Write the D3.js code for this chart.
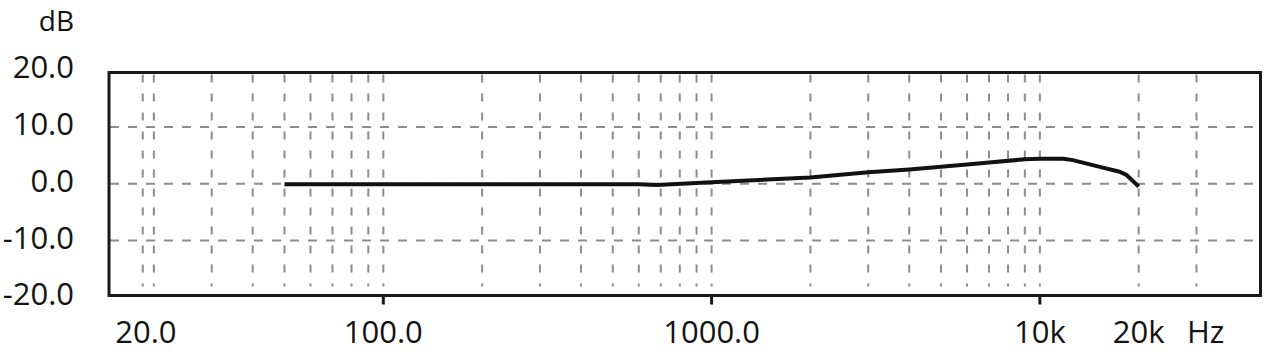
<!DOCTYPE html>
<html>
<head>
<meta charset="utf-8">
<script src="https://cdn.jsdelivr.net/npm/d3@7"></script>
<style>
  body { margin: 0; background: #fff; }
  svg { display: block; }
  text { font-family: "Open Sans", sans-serif; fill: #141414; }
</style>
</head>
<body>
<svg id="svg" width="1273" height="359"></svg>
<script>
// response curve
var freqs = [50, 100, 200, 400, 600, 680, 1000, 2000, 3000, 4000, 5000, 6000, 7000, 9000, 10000, 11800, 12600, 14900, 17500, 18400, 20000];
var levels = [-0.1, -0.1, -0.1, -0.1, -0.1, -0.25, 0.25, 1.1, 2.0, 2.5, 3.0, 3.4, 3.75, 4.3, 4.4, 4.4, 4.15, 3.1, 2.1, 1.5, -0.5];

var gridFreqs = [18.5, 20, 30, 40, 50, 60, 70, 80, 90, 100, 200, 300, 400, 500, 600, 700, 800, 900, 1000,
                 2000, 3000, 4000, 5000, 6000, 7000, 8000, 9000, 10000, 20000, 30000];
var gridLevels = [10, 0, -10];

var xTickVals = [20, 100, 1000, 10000, 20000];
var xTickLabels = ['20.0', '100.0', '1000.0', '10k', '20k'];
var xMarkVals = [100, 1000, 10000];
var yTickVals = [20, 10, 0, -10, -20];
var yTickLabels = ['20.0', '10.0', '0.0', '-10.0', '-20.0'];

var plotLeft = 109, plotRight = 1260.5, plotTop = 72.5, plotBottom = 295.5;

var svg = d3.select('svg');

var x = d3.scaleLog()
    .domain([14.6, 47000])
    .range([plotLeft, plotRight]);

var y = d3.scaleLinear()
    .domain([-20, 20])
    .range([297.3, 70.1]);

// grid
svg.selectAll('line.vgrid')
    .data(gridFreqs)
    .enter()
    .append('line')
    .attr('class', 'vgrid')
    .attr('x1', function(d){ return x(d); })
    .attr('x2', function(d){ return x(d); })
    .attr('y1', plotTop + 2)
    .attr('y2', plotBottom - 9)
    .attr('stroke', '#8c8c8c')
    .attr('stroke-width', 2)
    .attr('stroke-dasharray', '8,11');

svg.selectAll('line.hgrid')
    .data(gridLevels)
    .enter()
    .append('line')
    .attr('class', 'hgrid')
    .attr('x1', plotLeft + 1)
    .attr('x2', plotRight - 1)
    .attr('y1', function(d){ return y(d); })
    .attr('y2', function(d){ return y(d); })
    .attr('stroke', '#8c8c8c')
    .attr('stroke-width', 2)
    .attr('stroke-dasharray', '9,9');

// frame
svg.append('rect')
    .attr('x', plotLeft)
    .attr('y', plotTop)
    .attr('width', plotRight - plotLeft)
    .attr('height', plotBottom - plotTop)
    .attr('fill', 'none')
    .attr('stroke', '#1a1a1a')
    .attr('stroke-width', 3);

// decade tick marks under the frame
svg.selectAll('line.xmark')
    .data(xMarkVals)
    .enter()
    .append('line')
    .attr('class', 'xmark')
    .attr('x1', function(d){ return x(d); })
    .attr('x2', function(d){ return x(d); })
    .attr('y1', plotBottom)
    .attr('y2', plotBottom + 9)
    .attr('stroke', '#1a1a1a')
    .attr('stroke-width', 3);

// curve
var line = d3.line()
    .x(function(d, i){ return x(freqs[i]); })
    .y(function(d){ return y(d); });

svg.append('path')
    .datum(levels)
    .attr('d', line)
    .attr('fill', 'none')
    .attr('stroke', '#111')
    .attr('stroke-width', 4)
    .attr('stroke-linejoin', 'round');

// labels
svg.selectAll('text.ylab')
    .data(yTickVals)
    .enter()
    .append('text')
    .attr('class', 'ylab')
    .attr('x', 74)
    .attr('y', function(d){ return Math.max(y(d) + 8, 75); })
    .attr('text-anchor', 'end')
    .attr('font-size', 31)
    .text(function(d, i){ return yTickLabels[i]; });

svg.append('text')
    .attr('x', 74)
    .attr('y', 31)
    .attr('text-anchor', 'end')
    .attr('font-size', 28)
    .text('dB');

svg.selectAll('text.xlab')
    .data(xTickVals)
    .enter()
    .append('text')
    .attr('class', 'xlab')
    .attr('x', function(d, i){ return x(d) - (i == 0 ? 8 : 0); })
    .attr('y', 343)
    .attr('text-anchor', 'middle')
    .attr('font-size', 31)
    .text(function(d, i){ return xTickLabels[i]; });

svg.append('text')
    .attr('x', 1187)
    .attr('y', 343)
    .attr('font-size', 31)
    .text('Hz');
</script>
</body>
</html>
